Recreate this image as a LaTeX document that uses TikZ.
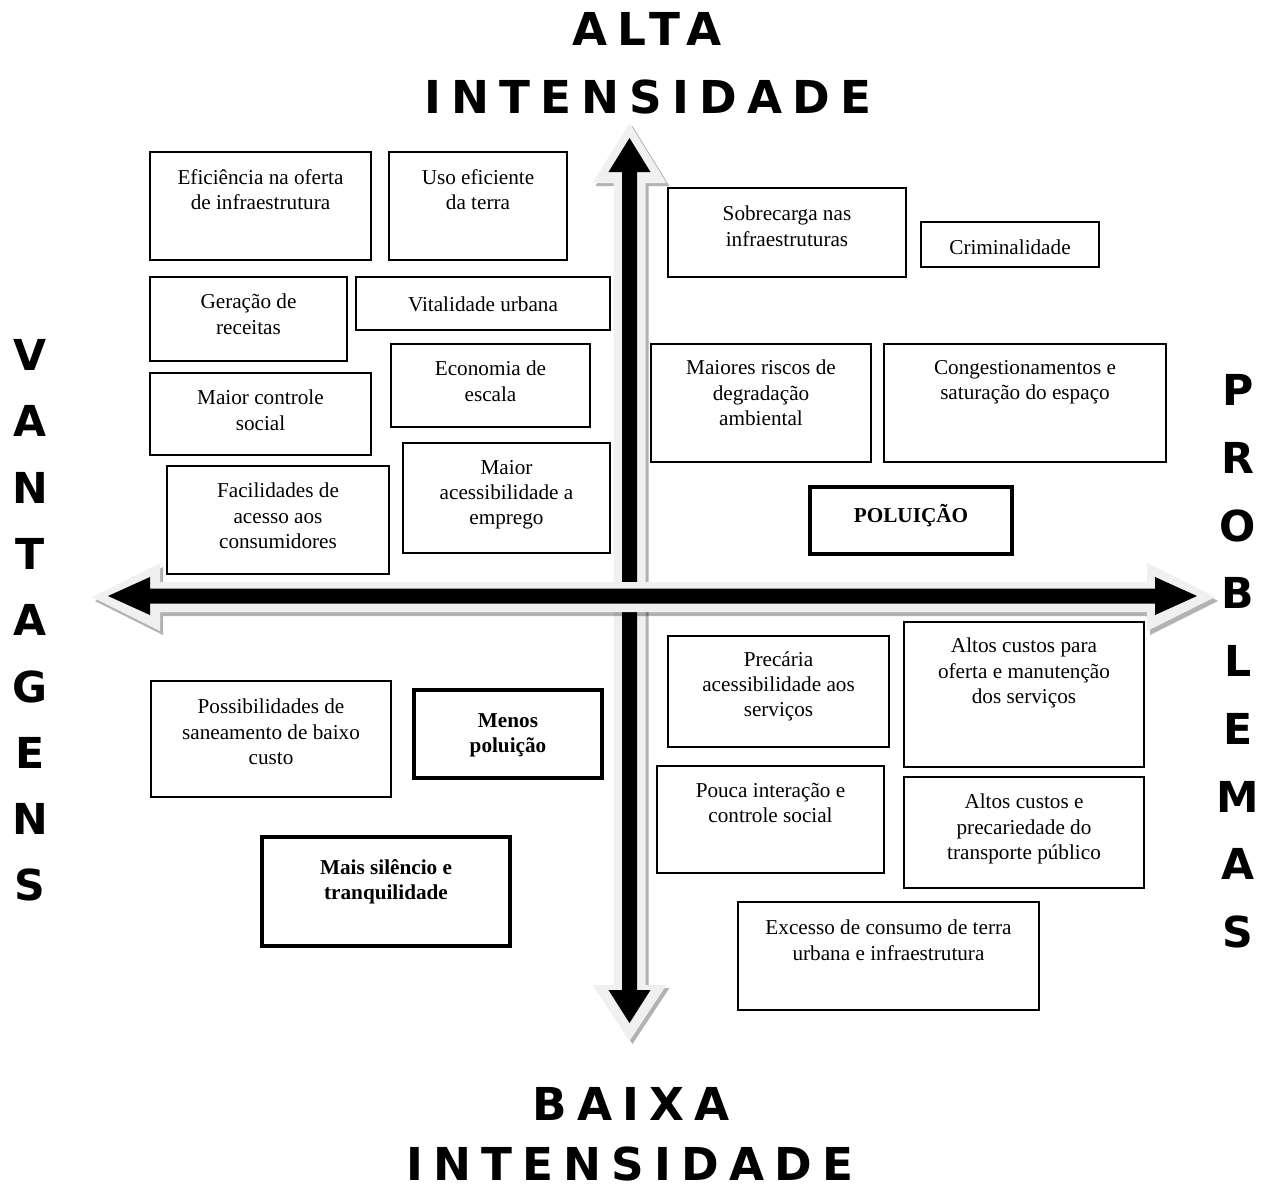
\documentclass[tikz,border=0pt]{standalone}
\usepackage{fontspec}
\setmainfont{Liberation Serif}
\newfontfamily\headfont{DejaVu Sans}[LetterSpace=22.5]
\begin{document}
\begin{tikzpicture}[x=0.75pt,y=-0.75pt,
		caixa/.style={draw=black,line width=1.3pt},
		caixaforte/.style={draw=black,line width=3.7pt},
		texto/.style={anchor=north,align=center,inner sep=0pt,
			font=\fontsize{15.9}{18.8}\selectfont,execute at begin node=\strut},
		textoforte/.style={texto,font=\fontsize{15.9}{18.8}\selectfont\bfseries},
		titulo/.style={inner sep=0pt,text depth=0pt,font=\headfont\bfseries\fontsize{34}{38}\selectfont},
		letra/.style={inner sep=0pt,text depth=0pt,font=\headfont\bfseries\fontsize{32}{36}\selectfont},
		sombra/.style={fill=black,opacity=0.3},
		externa/.style={fill=black!6},
		interna/.style={fill=black}]
	\useasboundingbox (0,0) rectangle (1268,1192);
	% eixo vertical
	\def\cx{629.5}
	\begin{scope}[shift={(3,3)}]
		\fill[sombra] (\cx,123) -- (\cx+37,183) -- (\cx+16,183) -- (\cx+16,985) -- (\cx+37,985)
			-- (\cx,1041) -- (\cx-37,985) -- (\cx-16,985) -- (\cx-16,183) -- (\cx-37,183) -- cycle;
	\end{scope}
	\fill[externa] (\cx,123) -- (\cx+37,183) -- (\cx+16,183) -- (\cx+16,985) -- (\cx+37,985)
		-- (\cx,1041) -- (\cx-37,985) -- (\cx-16,985) -- (\cx-16,183) -- (\cx-37,183) -- cycle;
	\fill[interna] (\cx,138) -- (\cx+21,172) -- (\cx+7.5,172) -- (\cx+7.5,990) -- (\cx+21,990)
		-- (\cx,1023) -- (\cx-21,990) -- (\cx-7.5,990) -- (\cx-7.5,172) -- (\cx-21,172) -- cycle;
	% eixo horizontal
	\def\cy{597}
	\begin{scope}[shift={(3,4)}]
		\fill[sombra] (92,\cy) -- (160,\cy-34) -- (160,\cy-15) -- (1147,\cy-15) -- (1147,\cy-34)
			-- (1215,\cy) -- (1147,\cy+34) -- (1147,\cy+15) -- (160,\cy+15) -- (160,\cy+34) -- cycle;
	\end{scope}
	\fill[externa] (92,\cy) -- (160,\cy-34) -- (160,\cy-15) -- (1147,\cy-15) -- (1147,\cy-34)
		-- (1215,\cy) -- (1147,\cy+34) -- (1147,\cy+15) -- (160,\cy+15) -- (160,\cy+34) -- cycle;
	\fill[interna] (108,\cy-1) -- (150,\cy-20) -- (150,\cy-8.5) -- (1155,\cy-8.5) -- (1155,\cy-20)
		-- (1197,\cy-1) -- (1155,\cy+18) -- (1155,\cy+6.5) -- (150,\cy+6.5) -- (150,\cy+18) -- cycle;
	% titulos
	\node[titulo] (alta) at (647,29) {ALTA};
	\node[titulo] (intalta) at (648,97) {INTENSIDADE};
	\node[titulo] (baixa) at (631,1104) {BAIXA};
	\node[titulo] (intbaixa) at (630,1164) {INTENSIDADE};
	\foreach \l [count=\i] in {V,A,N,T,A,G,E,N,S}
		\node[letra] (vant\i) at (30,355+66.25*\i-66.25) {\l};
	\foreach \l [count=\i] in {P,R,O,B,L,E,M,A,S}
		\node[letra] (prob\i) at (1238,390+67.75*\i-67.75) {\l};
	% vantagens - alta intensidade
	\draw[caixa] (150,152) rectangle (371,260);
	\node[texto] (eficiencia) at (260.5,169) {Eficiência na oferta\\de infraestrutura};
	\draw[caixa] (389,152) rectangle (567,260);
	\node[texto] (usoterra) at (478,169) {Uso eficiente\\da terra};
	\draw[caixa] (150,277) rectangle (347,361);
	\node[texto] (receitas) at (248.5,294) {Geração de\\receitas};
	\draw[caixa] (356,277) rectangle (610,330);
	\node[texto] (vitalidade) at (483,294) {Vitalidade urbana};
	\draw[caixa] (391,344) rectangle (590,427);
	\node[texto] (escala) at (490.5,361) {Economia de\\escala};
	\draw[caixa] (150,373) rectangle (371,455);
	\node[texto] (controle) at (260.5,390) {Maior controle\\social};
	\draw[caixa] (167,466) rectangle (389,574);
	\node[texto] (facilidades) at (278,483) {Facilidades de\\acesso aos\\consumidores};
	\draw[caixa] (403,443) rectangle (610,553);
	\node[texto] (emprego) at (506.5,460) {Maior\\acessibilidade a\\emprego};
	% problemas - alta intensidade
	\draw[caixa] (668,188) rectangle (906,277);
	\node[texto] (sobrecarga) at (787,206) {Sobrecarga nas\\infraestruturas};
	\draw[caixa] (921,222) rectangle (1099,267);
	\node[texto] (crime) at (1010,237) {Criminalidade};
	\draw[caixa] (651,344) rectangle (871,462);
	\node[texto] (riscos) at (761,360) {Maiores riscos de\\degradação\\ambiental};
	\draw[caixa] (884,344) rectangle (1166,462);
	\node[texto] (congest) at (1025,360) {Congestionamentos e\\saturação do espaço};
	\draw[caixaforte] (810,487) rectangle (1012,554);
	\node[textoforte] (poluicao) at (911,504) {POLUIÇÃO};
	% problemas - baixa intensidade
	\draw[caixa] (668,636) rectangle (889,747);
	\node[texto] (precaria) at (778.5,651) {Precária\\acessibilidade aos\\serviços};
	\draw[caixa] (904,622) rectangle (1144,767);
	\node[texto] (custos) at (1024,638) {Altos custos para\\oferta e manutenção\\dos serviços};
	\draw[caixa] (657,766) rectangle (884,873);
	\node[texto] (interacao) at (770.5,783) {Pouca interação e\\controle social};
	\draw[caixa] (904,777) rectangle (1144,888);
	\node[texto] (transporte) at (1024,794) {Altos custos e\\precariedade do\\transporte público};
	\draw[caixa] (738,902) rectangle (1039,1010);
	\node[texto] (excesso) at (888.5,920) {Excesso de consumo de terra\\urbana e infraestrutura};
	% vantagens - baixa intensidade
	\draw[caixa] (151,681) rectangle (391,797);
	\node[texto] (saneamento) at (271,699) {Possibilidades de\\saneamento de baixo\\custo};
	\draw[caixaforte] (414,690) rectangle (602,778);
	\node[textoforte] (menospol) at (508,713) {Menos\\poluição};
	\draw[caixaforte] (262,837) rectangle (510,946);
	\node[textoforte] (silencio) at (386,859) {Mais silêncio e\\tranquilidade};
\end{tikzpicture}
\end{document}
